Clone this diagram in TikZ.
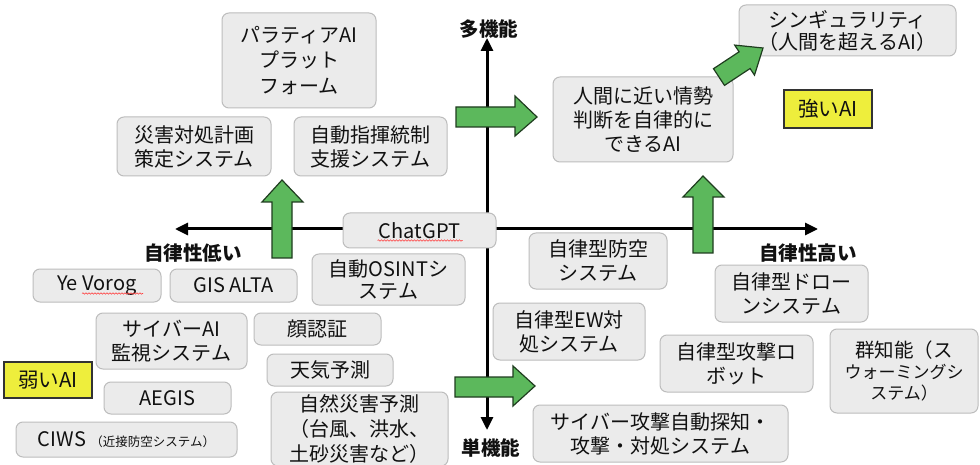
\documentclass[tikz,border=0pt]{standalone}
\usepackage{fontspec}
\setmainfont{Noto Sans CJK JP}
\usetikzlibrary{arrows.meta,decorations.pathmorphing}
\definecolor{boxfill}{HTML}{EBEBEB}
\definecolor{boxline}{HTML}{BDBDBD}
\definecolor{txt}{HTML}{111111}
\definecolor{ylw}{HTML}{EEEE3C}
\definecolor{grn}{HTML}{5CB85C}
\definecolor{grnline}{HTML}{1F3D1F}
\begin{document}
\begin{tikzpicture}[x=1pt,y=-1pt,
 box/.style={draw=boxline, fill=boxfill, line width=1pt, rounded corners=7pt, inner sep=0pt, align=center, text=txt, font=\fontsize{20}{24}\selectfont},
 ybox/.style={draw=black!80, fill=ylw, line width=1.4pt, inner sep=0pt, text=txt, font=\fontsize{20.5}{24}\selectfont},
 axis/.style={line width=3pt, {Triangle[length=13pt,width=12pt]}-{Triangle[length=13pt,width=12pt]}},
 axlabel/.style={font=\bfseries\fontsize{19.5}{22}\selectfont, text=txt, inner sep=0pt},
 blockarrow/.style={fill=grn, draw=grnline, line width=1.2pt, line join=miter},
 wavy/.style={draw=red!75, line width=0.6pt, decorate, decoration={snake, amplitude=0.7pt, segment length=3pt}}
]
\useasboundingbox (0,0) rectangle (980,465);
\fill[white] (0,0) rectangle (980,465);

% axes
\coordinate (xl) at (175,229);
\coordinate (xr) at (818,229);
\coordinate (yt) at (487,38);
\coordinate (yb) at (487,430);
\draw[axis] (xl) -- (xr);
\draw[axis] (yb) -- (yt);

\node[axlabel] (lmulti) at (489,29) {多機能};
\node[axlabel] (lsingle) at (491,448) {単機能};
\node[axlabel] (llow) at (193,253) {自律性低い};
\node[axlabel] (lhigh) at (808,253) {自律性高い};

% boxes
\node[box, minimum width=154pt, minimum height=95pt, font=\fontsize{20}{25.5}\selectfont] (para) at (299,60.5) {パラティアAI\\プラット\\フォーム};
\node[box, minimum width=154pt, minimum height=59pt] (saigai) at (194,146.5) {災害対処計画\\策定システム};
\node[box, minimum width=153pt, minimum height=59pt] (shiki) at (370.5,146.5) {自動指揮統制\\支援システム};
\node[box, minimum width=153pt, minimum height=35pt] (chatgpt) at (419.5,230.5) {ChatGPT};
\node[box, minimum width=217pt, minimum height=51pt, font=\fontsize{20}{22}\selectfont] (sing) at (847.5,30.5) {シンギュラリティ\\（人間を超えるAI）};
\node[box, minimum width=180pt, minimum height=85pt] (ningen) at (643,119.5) {人間に近い情勢\\判断を自律的に\\できるAI};
\node[ybox, minimum width=88pt, minimum height=38pt] (strong) at (828,109) {強いAI};

\node[box, minimum width=128pt, minimum height=33pt] (yevorog) at (97,285.5) {Ye Vorog};
\node[box, minimum width=127pt, minimum height=33pt] (gis) at (233.5,285.5) {GIS ALTA};
\node[box, minimum width=153pt, minimum height=51pt, font=\fontsize{20}{22}\selectfont] (osint) at (388.5,279.5) {自動OSINTシ\\ステム};
\node[box, minimum width=151pt, minimum height=56pt] (cyberai) at (171.5,341) {サイバーAI\\監視システム};
\node[box, minimum width=127pt, minimum height=32pt] (face) at (317.5,329) {顔認証};
\node[box, minimum width=126pt, minimum height=32pt] (weather) at (330,370) {天気予測};
\node[ybox, minimum width=88pt, minimum height=36pt] (weak) at (48,380) {弱いAI};
\node[box, minimum width=127pt, minimum height=32pt] (aegis) at (167.5,398) {AEGIS};
\node[box, minimum width=221pt, minimum height=35pt] (ciws) at (126.5,439.5) {CIWS {\fontsize{12.5}{14}\selectfont （近接防空システム）}};
\node[box, minimum width=177pt, minimum height=74pt, font=\fontsize{20}{25}\selectfont] (natural) at (359.5,429) {自然災害予測\\（台風、洪水、\\土砂災害など）};

\node[box, minimum width=138pt, minimum height=56pt] (bouku) at (598,261) {自律型防空\\システム};
\node[box, minimum width=153pt, minimum height=57pt] (drone) at (791.5,293.5) {自律型ドロー\\ンシステム};
\node[box, minimum width=152pt, minimum height=57pt] (ew) at (569,331.5) {自律型EW対\\処システム};
\node[box, minimum width=153pt, minimum height=57pt] (robot) at (736.5,363.5) {自律型攻撃ロ\\ボット};
\node[box, minimum width=148pt, minimum height=84pt, font=\fontsize{17}{21}\selectfont] (swarm) at (904,371) {{\fontsize{19.5}{21}\selectfont 群知能（ス}\\ウォーミングシ\\ステム）};
\node[box, minimum width=255pt, minimum height=57pt] (cyberatk) at (660.5,433.5) {サイバー攻撃自動探知・\\攻撃・対処システム};

% spell-check underlines
\draw[wavy] ([xshift=-42pt,yshift=-10pt]chatgpt.center) -- ++(85,0);
\draw[wavy] ([xshift=-15pt,yshift=-8pt]yevorog.center) -- ++(61,0);

% green block arrows
\draw[blockarrow] (272,258) -- (272,202) -- (262,202) -- (282,180) -- (303,202) -- (292,202) -- (292,258) -- cycle;
\draw[blockarrow] (693,253) -- (693,197) -- (683,197) -- (703,176) -- (724,197) -- (713,197) -- (713,253) -- cycle;
\draw[blockarrow] (456,107) -- (515,107) -- (515,96) -- (537,117) -- (515,136) -- (515,127) -- (456,127) -- cycle;
\draw[blockarrow] (455,377) -- (513,377) -- (513,366) -- (535,386) -- (513,406) -- (513,397) -- (455,397) -- cycle;
\draw[blockarrow] (713.5,68.7) -- (739.1,51.8) -- (734.7,45.1) -- (763,48) -- (754.5,75.1) -- (750.1,68.5) -- (724.5,85.4) -- cycle;
\end{tikzpicture}
\end{document}
